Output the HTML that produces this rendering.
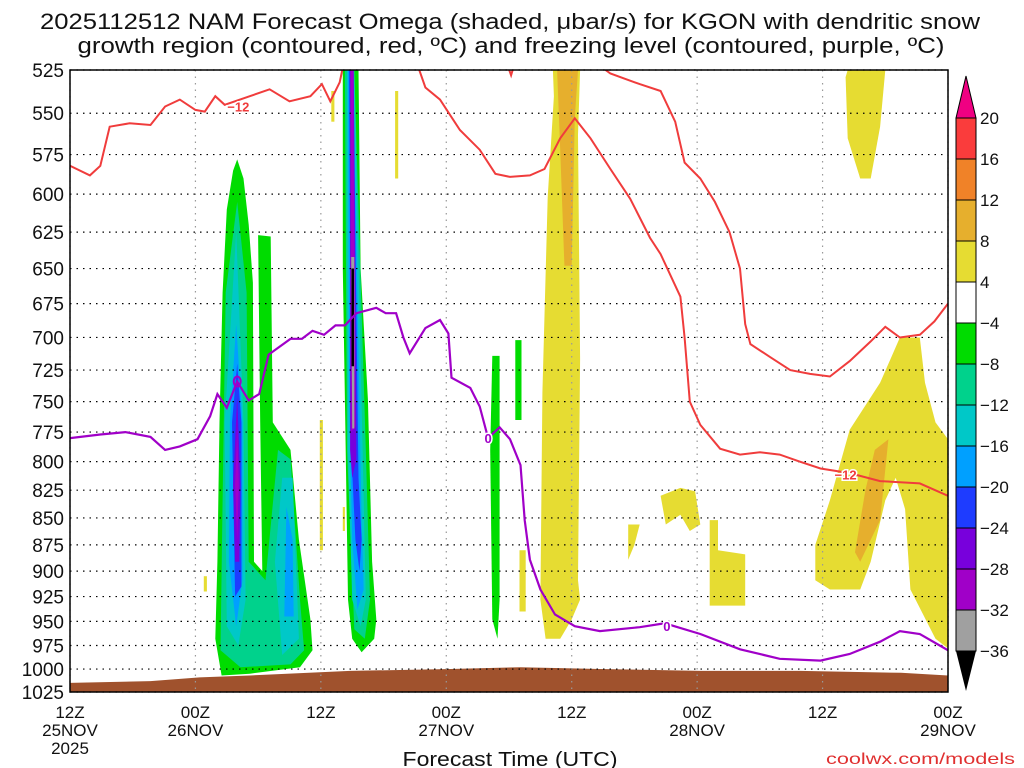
<!DOCTYPE html>
<html><head><meta charset="utf-8">
<style>
html,body{margin:0;padding:0;background:#fff;}
svg{display:block;font-family:"Liberation Sans","DejaVu Sans",sans-serif;}
</style></head>
<body>
<svg id="chart" width="1024" height="768" viewBox="0 0 1024 768" xmlns="http://www.w3.org/2000/svg">
<text x="510" y="29" font-size="22" text-anchor="middle" fill="#111" textLength="940" lengthAdjust="spacingAndGlyphs">2025112512 NAM Forecast Omega (shaded, μbar/s) for KGON with dendritic snow</text>
<text x="511" y="53" font-size="22" text-anchor="middle" fill="#111" textLength="867" lengthAdjust="spacingAndGlyphs">growth region (contoured, red, ºC) and freezing level (contoured, purple, ºC)</text>
<g id="shading"></g>
<g id="ground"></g>
<g id="grid"></g>
<g id="lines"></g>
<g id="axes"></g>
<g id="cbar"></g>
<text x="510" y="766" font-size="20" text-anchor="middle" fill="#111" textLength="215" lengthAdjust="spacingAndGlyphs">Forecast Time (UTC)</text>
<text x="1015" y="764" font-size="16" text-anchor="end" fill="#e03030" textLength="189" lengthAdjust="spacingAndGlyphs">coolwx.com/models</text>
</svg>
<script>
// ---- data ----
const pTicks = [525,550,575,600,625,650,675,700,725,750,775,800,825,850,875,900,925,950,975,1000,1025];
const xTickHours = [0,12,24,36,48,60,72,84];
const xTickLabels = [["12Z","25NOV","2025"],["00Z","26NOV"],["12Z"],["00Z","27NOV"],["12Z"],["00Z","28NOV"],["12Z"],["00Z","29NOV"]];
const cbarLabels = ["20","16","12","8","4","−4","−8","−12","−16","−20","−24","−28","−32","−36"];
const cbarColors = ["#fa3c3c","#f08228","#e6af2d","#e6dc32","#ffffff","#00dc00","#00d28c","#00c8c8","#00a0ff","#1e3cff","#7800dc","#a000c8","#a0a0a0"];
const redLine1 = [[0,582],[1.9,588],[2.9,582],[3.8,558],[5.7,556],[7.7,557],[9.1,546],[10.5,542],[12,548],[12.9,549],[13.9,540],[14.8,545],[17.2,540],[19.1,536],[21,543],[23,540],[24.1,533],[24.9,543],[25.8,532],[26.3,518]];
const redLine2 = [[33,518],[34,535],[35.4,542],[37.3,560],[39.2,572],[40.7,587],[42.1,589],[44,588],[45.4,584],[46.9,565],[48.3,553],[49.8,565],[51.7,584],[53.6,603],[55.5,629],[56.5,640],[58.4,670],[58.8,700],[59.3,750],[60.3,769],[62.2,789],[64.1,794],[66,792],[67.9,794],[69.8,800],[71.8,806],[74.6,810],[77.5,817],[81.3,819],[84,830]];
const redLine3 = [[49.6,518],[51.7,527],[53.1,530],[54.5,533],[56.5,537],[57.9,555],[58.8,580],[60.3,590],[61.7,605],[63.1,625],[64.1,650],[64.6,690],[65.1,705],[67,715],[68.9,725],[70.8,728],[72.7,730],[74.6,718],[76.6,703],[78,692],[79.4,700],[81.3,698],[82.7,688],[84,675]];
const redLine4 = [[41.6,518],[42.2,528],[42.5,522]];
const freezeLine = [[0,780],[2.9,777],[5.3,775],[7.7,779],[9.1,790],[10.5,787],[12.2,781],[13.4,762],[14.1,744],[15,755],[16,734],[17.1,749],[18.1,744],[19,713],[21.1,701],[22.2,701],[23.2,695],[24.3,698],[25.4,691],[26.3,691],[27.4,682],[29.3,678],[30.2,682],[31.2,682],[31.9,700],[32.5,712],[34,693],[35.4,687],[36.2,697],[36.5,731],[38.3,739],[39.2,754],[40,780],[41.1,771],[42.1,781],[43.1,803],[43.5,852],[44,889],[45,918],[46.4,943],[48.3,955],[50.7,960],[54.5,956],[56.9,952],[60.3,963],[64.1,979],[67.9,989],[71.8,991],[74.6,984],[77.5,971],[79.4,960],[81.3,963],[84,980]];
const groundTop = [[0,1015],[7.7,1013],[12.4,1009],[17.2,1007],[26.8,1002],[36.4,1000],[43.1,998],[50.7,1000],[60.3,1002],[69.9,1002],[79.5,1004],[84,1007]];
// omega shaded regions: [level index, polygon of [hour, pressure]]
const omegaRegions = [
 [5,[[16.0,578],[16.6,590],[17.1,620],[17.5,660],[17.6,891],[18.4,900],[18.2,767],[18.0,627],[19.2,628],[19.4,767],[21.1,790],[21.9,870],[23.0,948],[23.2,980],[22.0,998],[17.2,1005],[14.5,1007],[13.9,968],[14.1,891],[14.3,767],[14.6,667],[15.0,610],[15.6,585]]],
 [5,[[18.2,628],[19.0,628],[19.2,720],[18.4,720]]],
 [6,[[16.0,605],[16.9,667],[17.1,891],[18.7,909],[19.9,790],[21.1,798],[22.0,928],[22.4,980],[21.1,995],[16.3,998],[14.4,980],[14.6,834],[14.9,667]]],
 [7,[[15.9,625],[16.6,767],[16.8,928],[16.1,975],[15.0,955],[14.8,767]]],
 [7,[[20.3,814],[21.3,814],[21.9,968],[20.3,985],[19.6,891]]],
 [8,[[15.9,690],[16.5,767],[16.5,909],[15.9,955],[15.2,891],[15.3,767]]],
 [8,[[20.7,840],[21.3,870],[21.4,945],[20.5,945]]],
 [9,[[16.0,720],[16.4,767],[16.4,915],[15.8,925],[15.5,767]]],
 [10,[[16.0,745],[16.3,820],[16.2,891],[15.8,891],[15.6,820]]],
 [11,[[16.0,770],[16.15,820],[16.0,870],[15.8,820]]],
 [5,[[26.1,525],[27.6,525],[27.8,650],[28.5,748],[28.9,891],[29.3,948],[29.1,968],[27.9,982],[27.0,968],[26.6,928],[26.3,748],[26.1,650]]],
 [6,[[26.3,525],[27.2,525],[28.3,790],[28.7,928],[28.2,968],[27.2,958],[26.5,790]]],
 [7,[[26.5,525],[27.2,525],[28.1,834],[28.3,928],[27.8,955],[27.0,928],[26.6,790]]],
 [8,[[26.6,525],[27.1,525],[27.9,852],[28.1,918],[27.5,938],[27.0,870],[26.7,748]]],
 [9,[[26.7,525],[27.1,525],[27.6,814],[27.9,870],[27.7,900],[27.3,870],[26.9,790]]],
 [10,[[26.8,525],[27.15,525],[27.4,798],[27.0,814],[26.8,790]]],
 [11,[[26.85,525],[27.1,525],[27.3,770],[26.9,775]]],
 [12,[[26.9,642],[27.2,642],[27.2,772],[27.0,772]]],
 [5,[[40.4,714],[41.1,714],[41.1,928],[40.9,968],[40.4,948],[40.2,790]]],
 [5,[[42.6,702],[43.2,702],[43.2,765],[42.6,765]]],
 [3,[[46.2,525],[48.8,525],[48.6,563],[48.8,716],[48.6,909],[48.8,928],[48.0,948],[46.9,968],[45.5,968],[45.0,928],[45.2,743],[45.7,602],[46.3,540]]],
 [2,[[46.6,525],[48.6,525],[48.3,553],[48.0,648],[47.3,648],[46.9,572]]],
 [3,[[74.4,525],[78.0,525],[77.5,558],[76.6,590],[75.6,590],[74.4,565],[74.2,529]]],
 [3,[[71.3,875],[72.7,834],[74.6,773],[77.5,735],[79.4,700],[81.3,700],[81.8,735],[82.8,767],[84,781],[84,978],[82.8,968],[80.4,918],[79.9,842],[79.0,814],[78.0,834],[76.6,891],[75.6,918],[72.7,918],[71.3,909]]],
 [2,[[77.0,790],[78.3,781],[77.5,852],[75.6,891],[75.1,882],[76.1,825]]],
 [3,[[56.5,830],[58.4,823],[59.8,826],[60.3,856],[59.3,862],[58.4,847],[57.0,856]]],
 [3,[[53.4,856],[54.5,856],[54.0,875],[53.4,889]]],
 [3,[[61.2,852],[62.0,852],[62.0,880],[64.6,884],[64.6,934],[61.2,934]]],
 [3,[[25.0,537],[25.3,537],[25.3,555],[25.0,555]]],
 [3,[[31.1,537],[31.4,537],[31.4,590],[31.1,590]]],
 [3,[[23.9,765],[24.2,765],[24.2,880],[23.9,880]]],
 [3,[[43.0,880],[43.6,880],[43.6,940],[43.0,940]]],
 [3,[[12.8,905],[13.1,905],[13.1,920],[12.8,920]]],
 [3,[[26.1,840],[26.3,840],[26.3,862],[26.1,862]]]
];
// ---- axes functions ----
const X0=70,X1=948,Y0=70,Y1=692,P0=525,P1=1025;
const xs=h=>X0+(h/84)*(X1-X0);
const ys=p=>Y0+(Math.log(p)-Math.log(P0))/(Math.log(P1)-Math.log(P0))*(Y1-Y0);
const NS="http://www.w3.org/2000/svg";
function mk(tag,parent,attrs){const e=document.createElementNS(NS,tag);for(const k in attrs)e.setAttribute(k,attrs[k]);parent.appendChild(e);return e;}
const pts=a=>a.map(d=>xs(d[0]).toFixed(1)+","+ys(Math.min(Math.max(d[1],P0-8),P1)).toFixed(1)).join(" ");
const svg=document.getElementById('chart');
const defs=mk('defs',svg,{});
const cp=mk('clipPath',defs,{id:'plotclip'});
mk('rect',cp,{x:X0,y:Y0,width:X1-X0,height:Y1-Y0});
// shading
const gS=document.getElementById('shading');gS.setAttribute('clip-path','url(#plotclip)');
omegaRegions.forEach((r,i)=>{
 const el=mk('polygon',gS,{points:pts(r[1]),fill:cbarColors[r[0]]});
 
 
});
const bl=mk('line',gS,{x1:xs(27.05),x2:xs(27.05),y1:ys(650),y2:ys(722),stroke:'#000','stroke-width':2.5});


// ground
const gG=document.getElementById('ground');
const gp=groundTop.concat([[84,1025],[0,1025]]);
const ge=mk('polygon',gG,{points:pts(gp),fill:'#a0522d'});


// grid
const gGr=document.getElementById('grid');
pTicks.forEach(p=>{
 const l=mk('line',gGr,{x1:X0,x2:X1,y1:ys(p),y2:ys(p),stroke:'#000','stroke-width':1.2,'stroke-dasharray':'1.5,5'});
 
 
});
xTickHours.forEach(h=>{
 const l=mk('line',gGr,{x1:xs(h),x2:xs(h),y1:Y0,y2:Y1,stroke:'#999','stroke-width':1.2,'stroke-dasharray':'1.5,5'});
 
 
});
// lines
const gL=document.getElementById('lines');gL.setAttribute('clip-path','url(#plotclip)');
[redLine1,redLine2,redLine3,redLine4].forEach(a=>{
 const l=mk('polyline',gL,{points:pts(a),fill:'none',stroke:'#f03c3c','stroke-width':2});
 
 
});
const fz=mk('polyline',gL,{points:pts(freezeLine),fill:'none',stroke:'#a000c8','stroke-width':2.2});


function clabel(h,p,t,c){
 const tx=mk('text',svg,{x:xs(h),y:ys(p)+5,'font-size':13,'font-weight':'bold','text-anchor':'middle',fill:c,stroke:'#fff','stroke-width':3,'paint-order':'stroke'});
 tx.textContent=t;
 
 
}
clabel(16.1,546,'−12','#f03c3c');clabel(74.2,811,'−12','#f03c3c');
clabel(40,780,'0','#a000c8');clabel(57.1,955,'0','#a000c8');
const oc=mk('ellipse',svg,{cx:xs(16),cy:ys(734),rx:3.5,ry:5,fill:'none',stroke:'#a000c8','stroke-width':2});


// axes
const gA=document.getElementById('axes');
const fr=mk('rect',gA,{x:X0,y:Y0,width:X1-X0,height:Y1-Y0,fill:'none',stroke:'#000','stroke-width':1.5});


pTicks.forEach(p=>{
 const t=mk('text',gA,{x:64,y:ys(p)+7,'font-size':19,'text-anchor':'end',fill:'#111'});
 t.textContent=p;
 
 
});
xTickHours.forEach((h,i)=>{
 xTickLabels[i].forEach((s,j)=>{
  const t=mk('text',gA,{x:xs(h),y:718+j*18,'font-size':17,'text-anchor':'middle',fill:'#111'});
  t.textContent=s;
  
  
 });
});
// colorbar
const gC=document.getElementById('cbar');
const CX=956,CW=20,CT=118,BH=41;
const tri1=mk('polygon',gC,{points:`${CX},${CT} ${CX+CW},${CT} ${CX+CW/2},${CT-42}`,fill:'#f00082',stroke:'#000','stroke-width':1});


cbarColors.forEach((c,i)=>{
 const r=mk('rect',gC,{x:CX,y:CT+i*BH,width:CW,height:BH,fill:c,stroke:'#000','stroke-width':1});
 
 
});
const CB=CT+cbarColors.length*BH;
const tri2=mk('polygon',gC,{points:`${CX},${CB} ${CX+CW},${CB} ${CX+CW/2},${CB+40}`,fill:'#000'});


cbarLabels.forEach((s,i)=>{
 const t=mk('text',gC,{x:980,y:CT+i*BH+6,'font-size':17,fill:'#111'});
 t.textContent=s;
 
 
});
</script>
</body></html>
